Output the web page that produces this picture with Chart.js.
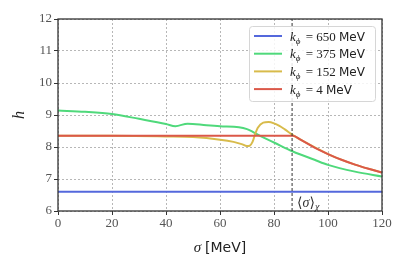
<!DOCTYPE html>
<html>
<head>
<meta charset="utf-8">
<script src="https://cdn.jsdelivr.net/npm/chart.js@4.4.1/dist/chart.umd.min.js"></script>
<style>
  html, body { margin: 0; padding: 0; background: #fff; }
  #wrap { width: 407px; height: 271px; }
</style>
</head>
<body>
<div id="wrap"><canvas id="chart" width="407" height="271"></canvas></div>
<script>
// sigma [MeV] and h values
const blueX = [0, 120];
const blueY = [6.6, 6.6];

const greenX = [0, 10, 20, 30, 40, 43.5, 48, 55, 60, 67, 70, 72, 75, 80, 87, 95, 100, 110, 120];
const greenY = [9.14, 9.1, 9.03, 8.88, 8.72, 8.65, 8.73, 8.68, 8.65, 8.62, 8.56, 8.48, 8.34, 8.14, 7.86, 7.6, 7.44, 7.23, 7.08];

const yellowX = [0, 20, 40, 50, 60, 65, 68, 70, 71, 72, 73, 74, 76, 78, 80, 82, 84, 86, 87, 90, 100, 110, 120];
const yellowY = [8.35, 8.35, 8.33, 8.31, 8.23, 8.16, 8.09, 8.03, 8.04, 8.15, 8.4, 8.6, 8.76, 8.78, 8.74, 8.66, 8.55, 8.43, 8.37, 8.22, 7.78, 7.45, 7.2];

const redX = [0, 87, 90, 95, 100, 105, 110, 115, 120];
const redY = [8.35, 8.35, 8.22, 7.98, 7.78, 7.6, 7.45, 7.32, 7.2];

const sigmaChi = 86.7;

const legendLabels = ['650', '375', '152', '4'];
const colors = ['#5468dc', '#4fd97b', '#d8bb4b', '#db5849'];

const pts = (xs, ys) => xs.map((x, i) => ({ x: x, y: ys[i] }));

const serif = '"Liberation Serif", "DejaVu Serif", serif';
const sans = '"DejaVu Sans", "Liberation Sans", sans-serif';

// frame, legend, axis titles and the <sigma>_chi note
const decorations = {
  id: 'decorations',
  afterDraw(chart) {
    const ctx = chart.ctx;
    const a = chart.chartArea;
    const xs = chart.scales.x;

    ctx.save();
    ctx.strokeStyle = '#333';
    ctx.lineWidth = 1.3;
    ctx.strokeRect(a.left, a.top, a.right - a.left, a.bottom - a.top);

    // legend box
    const lx = 249, ly = 26, lw = 126, lh = 75;
    ctx.fillStyle = 'rgba(255,255,255,0.85)';
    ctx.strokeStyle = '#d6d6d6';
    ctx.lineWidth = 1;
    ctx.beginPath();
    ctx.roundRect(lx + 0.5, ly + 0.5, lw, lh, 3);
    ctx.fill();
    ctx.stroke();

    ctx.textBaseline = 'alphabetic';
    legendLabels.forEach((lab, i) => {
      const y = 36 + i * 17.7;
      ctx.strokeStyle = colors[i];
      ctx.lineWidth = 2;
      ctx.beginPath();
      ctx.moveTo(254, y);
      ctx.lineTo(282, y);
      ctx.stroke();

      let tx = 290;
      const base = y + 4.5;
      ctx.fillStyle = '#222';
      ctx.font = 'italic 13px ' + serif;
      ctx.fillText('k', tx, base);
      tx += ctx.measureText('k').width;
      ctx.font = 'italic 9px ' + serif;
      ctx.fillText('\u03d5', tx, base + 3);
      tx += ctx.measureText('\u03d5').width + 2;
      ctx.font = '13px ' + serif;
      const mid = ' = ' + lab + ' ';
      ctx.fillText(mid, tx, base);
      tx += ctx.measureText(mid).width;
      ctx.font = '12px ' + sans;
      ctx.fillText('MeV', tx, base);
    });

    // <sigma>_chi label
    let nx = xs.getPixelForValue(sigmaChi) + 5;
    const ny = 207;
    ctx.fillStyle = '#333';
    ctx.font = '14px ' + serif;
    ctx.fillText('\u27e8', nx, ny);
    nx += ctx.measureText('\u27e8').width;
    ctx.font = 'italic 14px ' + serif;
    ctx.fillText('\u03c3', nx, ny);
    nx += ctx.measureText('\u03c3').width;
    ctx.font = '14px ' + serif;
    ctx.fillText('\u27e9', nx, ny);
    nx += ctx.measureText('\u27e9').width;
    ctx.font = 'italic 10px ' + serif;
    ctx.fillText('\u03c7', nx, ny + 3);

    // x title
    ctx.fillStyle = '#222';
    ctx.textAlign = 'left';
    ctx.font = 'italic 15px ' + serif;
    const sw = ctx.measureText('\u03c3 ').width;
    ctx.font = '14px ' + sans;
    const mw = ctx.measureText('[MeV]').width;
    let tx = (a.left + a.right) / 2 - (sw + mw) / 2;
    ctx.font = 'italic 15px ' + serif;
    ctx.fillText('\u03c3 ', tx, 252);
    ctx.font = '14px ' + sans;
    ctx.fillText('[MeV]', tx + sw, 252);

    // y title
    ctx.translate(24, (a.top + a.bottom) / 2);
    ctx.rotate(-Math.PI / 2);
    ctx.textAlign = 'center';
    ctx.font = 'italic 16px ' + serif;
    ctx.fillText('h', 0, 0);
    ctx.restore();
  }
};

const line = (data, color, order) => ({
  data: data,
  borderColor: color,
  borderWidth: 2,
  pointRadius: 0,
  cubicInterpolationMode: 'monotone',
  fill: false,
  order: order,
});

const gridOpts = {
  color: '#999',
  lineWidth: 0.7,
  tickLength: 4,
  tickColor: '#333',
  tickBorderDash: [],
  tickWidth: 1,
};

new Chart(document.getElementById('chart'), {
  type: 'line',
  data: {
    datasets: [
      line(pts(blueX, blueY), colors[0], 4),
      line(pts(greenX, greenY), colors[1], 3),
      line(pts(yellowX, yellowY), colors[2], 2),
      line(pts(redX, redY), colors[3], 1),
      {
        data: [{ x: sigmaChi, y: 6 }, { x: sigmaChi, y: 12 }],
        borderColor: '#333',
        borderWidth: 1,
        borderDash: [3, 2],
        pointRadius: 0,
        order: 0,
      },
    ],
  },
  options: {
    responsive: false,
    animation: false,
    layout: { padding: { left: 0, top: 19, right: 25, bottom: 0 } },
    plugins: {
      legend: { display: false },
      tooltip: { enabled: false },
    },
    scales: {
      x: {
        type: 'linear',
        min: 0,
        max: 120,
        afterFit: (s) => { s.height = 60; },
        ticks: {
          stepSize: 20,
          color: '#555',
          font: { family: serif, size: 13 },
          padding: 1,
        },
        grid: gridOpts,
        border: { display: false, dash: [2, 2] },
      },
      y: {
        min: 6,
        max: 12,
        afterFit: (s) => { s.width = 58; },
        ticks: {
          stepSize: 1,
          color: '#555',
          font: { family: serif, size: 13 },
          padding: 2,
        },
        grid: gridOpts,
        border: { display: false, dash: [2, 2] },
      },
    },
  },
  plugins: [decorations],
});
</script>
</body>
</html>
